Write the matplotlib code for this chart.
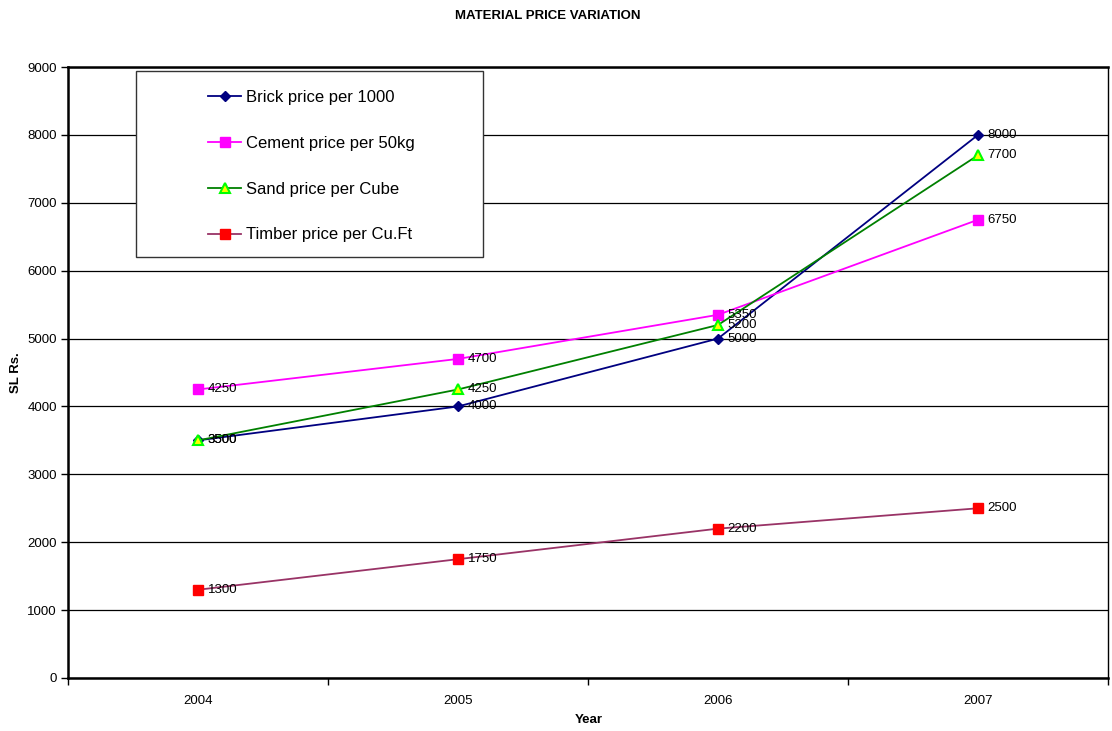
import matplotlib
matplotlib.use("Agg")
import matplotlib.pyplot as plt
from matplotlib.patches import Rectangle
from matplotlib.ticker import FixedLocator, NullFormatter

plt.rcParams['font.family'] = ['Liberation Sans', 'DejaVu Sans']

years = ['2004', '2005', '2006', '2007']
brick = [3500, 4000, 5000, 8000]
cement = [4250, 4700, 5350, 6750]
sand = [3500, 4250, 5200, 7700]
timber = [1300, 1750, 2200, 2500]
yticks = [0, 1000, 2000, 3000, 4000, 5000, 6000, 7000, 8000, 9000]

W, H = 1112, 731
fig = plt.figure(figsize=(W / 100, H / 100), dpi=100)
ax = fig.add_axes([68 / W, 1 - 678 / H, (1108 - 68) / W, (678 - 67) / H])

x = list(range(len(years)))
series = [
    ("Brick price per 1000", brick, dict(color='#000080', marker='D', markersize=5.5,
                                          markerfacecolor='#000080', markeredgecolor='#000080')),
    ("Cement price per 50kg", cement, dict(color='#FF00FF', marker='s', markersize=7,
                                           markerfacecolor='#FF00FF', markeredgecolor='#FF00FF')),
    ("Sand price per Cube", sand, dict(color='#008000', marker='^', markersize=7,
                                       markerfacecolor='#FFFF00', markeredgecolor='#00FF00',
                                       markeredgewidth=1.5)),
    ("Timber price per Cu.Ft", timber, dict(color='#993366', marker='s', markersize=7,
                                            markerfacecolor='#FF0000', markeredgecolor='#FF0000')),
]
handles = []
for label, vals, kw in series:
    h, = ax.plot(x, vals, linewidth=1.3, label=label, zorder=3, **kw)
    handles.append(h)
    for xi, v in zip(x, vals):
        ax.annotate(str(v), (xi, v), xytext=(7, 0), textcoords='offset points',
                    ha='left', va='center', fontsize=9.5, color='black', zorder=4)

ax.set_xlim(-0.5, 3.5)
ax.set_ylim(0, 9000)
ax.set_yticks(yticks)
ax.set_yticklabels([str(t) for t in yticks], fontsize=9.5)
ax.set_xticks(x)
ax.set_xticklabels(years, fontsize=9.5)
ax.tick_params(axis='x', which='major', length=0, pad=12)
ax.xaxis.set_minor_locator(FixedLocator([-0.5, 0.5, 1.5, 2.5, 3.5]))
ax.xaxis.set_minor_formatter(NullFormatter())
ax.tick_params(axis='x', which='minor', length=5, width=1, color='black')
ax.tick_params(axis='y', length=5, width=1, pad=3)
ax.yaxis.grid(True, color='black', linewidth=0.9)
ax.set_axisbelow(True)
for s in ax.spines.values():
    s.set_color('black')
    s.set_linewidth(1.0)
ax.spines['left'].set_linewidth(1.8)
ax.spines['bottom'].set_linewidth(1.8)
ax.spines['top'].set_linewidth(1.8)

fig.text(548 / W, 1 - 16 / H, "MATERIAL PRICE VARIATION", ha='center', va='center',
         fontsize=9.5, fontweight='bold')
fig.text(589 / W, 1 - 720 / H, "Year", ha='center', va='center', fontsize=9.5, fontweight='bold')
fig.text(16 / W, 1 - 373 / H, "SL Rs.", ha='center', va='center', rotation=90,
         fontsize=9.5, fontweight='bold')

# legend box
fig.patches.append(Rectangle((136 / W, 1 - 257 / H), (483 - 136) / W, (257 - 71) / H,
                             transform=fig.transFigure, facecolor='white',
                             edgecolor='#333333', linewidth=1.0, zorder=5))
leg = fig.legend(handles=handles, loc='upper left', bbox_to_anchor=(208 / W, 1 - 90 / H),
                 frameon=False, fontsize=12, labelspacing=1.85, handlelength=2.0,
                 handletextpad=0.25, borderpad=0, borderaxespad=0)
leg.set_zorder(6)

fig.savefig("out.png", dpi=100)
